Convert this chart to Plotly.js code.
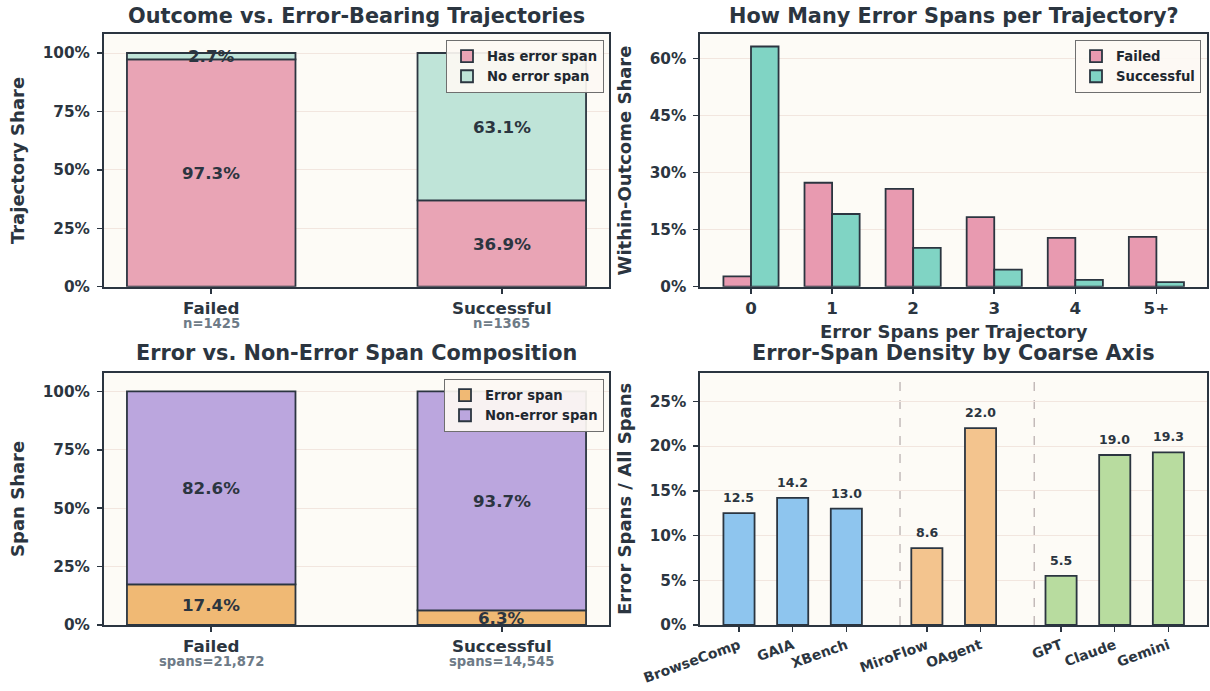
<!DOCTYPE html>
<html>
<head>
<meta charset="utf-8">
<script src="https://cdn.plot.ly/plotly-3.0.1.min.js"></script>
<style>
html,body{margin:0;padding:0;background:#ffffff;}
#chart{width:1210px;height:691px;}
</style>
</head>
<body>
<div id="chart"></div>
<script>
// ---------------- DATA ----------------
const outcomes = ['Failed', 'Successful'];
const trajectoryCounts = [1425, 1365];
const hasErrorShare = [97.3, 36.9];
const noErrorShare = [2.7, 63.1];

const spanBins = ['0', '1', '2', '3', '4', '5+'];
const failedSpanDist = [2.7, 27.3, 25.7, 18.3, 12.8, 13.1];
const successSpanDist = [63.1, 19.1, 10.2, 4.5, 1.8, 1.2];

const spanCounts = [21872, 14545];
const errorSpanShare = [17.4, 6.3];
const nonErrorSpanShare = [82.6, 93.7];

const densityLabels = ['BrowseComp', 'GAIA', 'XBench', 'MiroFlow', 'OAgent', 'GPT', 'Claude', 'Gemini'];
const densityGroups = ['benchmark', 'benchmark', 'benchmark', 'framework', 'framework', 'model', 'model', 'model'];
const densityValues = [12.5, 14.2, 13.0, 8.6, 22.0, 5.5, 19.0, 19.3];

// ---------------- STYLE ----------------
const FONT = 'DejaVu Sans, Verdana, sans-serif';
const DARK = '#2b3540';
const GREY = '#6e7b87';
const PLOT_BG = '#fdfbf6';
const GRID = '#f2e6df';
const PINK = '#e9a4b5';
const MINT = '#bfe4d8';
const PINK2 = '#e89ab0';
const TEAL2 = '#80d4c4';
const ORANGE = '#f0b974';
const PURPLE = '#bba6de';
const groupColors = {benchmark: '#8ec5ee', framework: '#f3c48e', model: '#b8dc9f'};

const W = 1210, H = 691;
const px = v => v / W;
const py = v => 1 - v / H;

const domL = [px(104), px(609)];
const domR = [px(700.4), px(1207)];
const domTop = [py(286.7), py(34.3)];
const domBot = [py(625), py(372.7)];

// bar positions for density panel (gap between groups)
const densityPos = [];
{
  let p = 0;
  densityGroups.forEach((g, i) => {
    if (i > 0) { p += 1; if (g !== densityGroups[i - 1]) p += 0.5; }
    densityPos.push(p);
  });
}
const dividers = [];
densityGroups.forEach((g, i) => { if (i > 0 && g !== densityGroups[i - 1]) dividers.push(densityPos[i] - 0.5); });

const edge = {color: DARK, width: 1.8};

const traces = [
  // Panel 1
  {type: 'bar', x: outcomes, y: hasErrorShare, base: [0, 0], width: 0.58, name: 'Has error span',
   marker: {color: PINK, line: edge}, xaxis: 'x', yaxis: 'y', legend: 'legend', hoverinfo: 'none'},
  {type: 'bar', x: outcomes, y: noErrorShare, base: hasErrorShare, width: 0.58, name: 'No error span',
   marker: {color: MINT, line: edge}, xaxis: 'x', yaxis: 'y', legend: 'legend', hoverinfo: 'none'},
  // Panel 2
  {type: 'bar', x: spanBins, y: failedSpanDist, width: 0.34, offset: -0.34, name: 'Failed',
   marker: {color: PINK2, line: edge}, xaxis: 'x2', yaxis: 'y2', legend: 'legend2', hoverinfo: 'none'},
  {type: 'bar', x: spanBins, y: successSpanDist, width: 0.34, offset: 0, name: 'Successful',
   marker: {color: TEAL2, line: edge}, xaxis: 'x2', yaxis: 'y2', legend: 'legend2', hoverinfo: 'none'},
  // Panel 3
  {type: 'bar', x: outcomes, y: errorSpanShare, base: [0, 0], width: 0.58, name: 'Error span',
   marker: {color: ORANGE, line: edge}, xaxis: 'x3', yaxis: 'y3', legend: 'legend3', hoverinfo: 'none'},
  {type: 'bar', x: outcomes, y: nonErrorSpanShare, base: errorSpanShare, width: 0.58, name: 'Non-error span',
   marker: {color: PURPLE, line: edge}, xaxis: 'x3', yaxis: 'y3', legend: 'legend3', hoverinfo: 'none'},
  // Panel 4
  {type: 'bar', x: densityPos, y: densityValues, width: 0.58, showlegend: false,
   marker: {color: densityGroups.map(g => groupColors[g]), line: edge}, xaxis: 'x4', yaxis: 'y4', hoverinfo: 'none'}
];

const tickFont = {family: FONT, size: 15.3, color: DARK, weight: 'bold'};
const bigTickFont = {family: FONT, size: 16.7, color: DARK, weight: 'bold'};
const axTitleFont = {family: FONT, size: 18, color: DARK, weight: 'bold'};

function yAxis(domain, anchor, range, dtick, title) {
  return {
    domain: domain, anchor: anchor, range: range, dtick: dtick, tick0: 0, ticksuffix: '%',
    showline: true, mirror: true, linecolor: DARK, linewidth: 2,
    ticks: 'outside', ticklen: 5, tickwidth: 1.5, tickcolor: DARK, ticklabelstandoff: 4,
    showgrid: true, gridcolor: GRID, gridwidth: 1, zeroline: false,
    tickfont: tickFont, fixedrange: true,
    title: {text: title, font: axTitleFont, standoff: 13}
  };
}
function xAxis(domain, anchor, extra) {
  return Object.assign({
    domain: domain, anchor: anchor,
    showline: true, mirror: true, linecolor: DARK, linewidth: 2,
    ticks: 'outside', ticklen: 5, tickwidth: 1.5, tickcolor: DARK,
    showgrid: false, zeroline: false, fixedrange: true,
    tickfont: bigTickFont
  }, extra);
}

const annotations = [];
// Panel titles
const titleSpec = [
  ['Outcome vs. Error-Bearing Trajectories', domL, 16],
  ['How Many Error Spans per Trajectory?', domR, 16],
  ['Error vs. Non-Error Span Composition', domL, 353],
  ['Error-Span Density by Coarse Axis', domR, 353]
];
titleSpec.forEach(([t, d, yc]) => annotations.push({
  text: t, xref: 'paper', yref: 'paper', x: (d[0] + d[1]) / 2, y: py(yc),
  xanchor: 'center', yanchor: 'middle', showarrow: false,
  font: {family: FONT, size: 20.8, color: DARK, weight: 'bold'}
}));

const segFont = {family: FONT, size: 16.7, color: DARK, weight: 'bold'};
const subFont = {family: FONT, size: 13.2, color: GREY, weight: 'bold'};
// Panel 1 segment labels
outcomes.forEach((o, i) => {
  annotations.push({text: hasErrorShare[i].toFixed(1) + '%', x: o, y: hasErrorShare[i] / 2, xref: 'x', yref: 'y', showarrow: false, font: segFont});
  annotations.push({text: noErrorShare[i].toFixed(1) + '%', x: o, y: hasErrorShare[i] + noErrorShare[i] / 2, xref: 'x', yref: 'y', showarrow: false, font: segFont});
  annotations.push({text: 'n=' + trajectoryCounts[i], x: o, y: py(323.5), xref: 'x', yref: 'paper', yanchor: 'middle', showarrow: false, font: subFont});
});
// Panel 3 segment labels
outcomes.forEach((o, i) => {
  annotations.push({text: errorSpanShare[i].toFixed(1) + '%', x: o, y: errorSpanShare[i] / 2, xref: 'x3', yref: 'y3', showarrow: false, font: segFont});
  annotations.push({text: nonErrorSpanShare[i].toFixed(1) + '%', x: o, y: errorSpanShare[i] + nonErrorSpanShare[i] / 2, xref: 'x3', yref: 'y3', showarrow: false, font: segFont});
  annotations.push({text: 'spans=' + spanCounts[i].toLocaleString('en-US'), x: o, y: py(661), xref: 'x3', yref: 'paper', yanchor: 'middle', showarrow: false, font: subFont});
});
// Panel 4 value labels
densityPos.forEach((p, i) => annotations.push({
  text: densityValues[i].toFixed(1), x: p, y: densityValues[i], xref: 'x4', yref: 'y4',
  yanchor: 'bottom', yshift: 6, showarrow: false,
  font: {family: FONT, size: 12.5, color: DARK, weight: 'bold'}
}));

const shapes = dividers.map(d => ({
  type: 'line', xref: 'x4', yref: 'y4 domain', x0: d, x1: d, y0: 0, y1: 1,
  line: {color: '#b5abab', width: 1.2, dash: 'dash'}, layer: 'below'
}));

const legendBase = {
  bgcolor: 'rgba(253,249,243,0.92)', bordercolor: '#6f6f6f', borderwidth: 1,
  font: {family: FONT, size: 13.2, color: '#1f2830', weight: 'bold'},
  xanchor: 'right', yanchor: 'top', traceorder: 'normal', itemclick: false, itemdoubleclick: false,
  tracegroupgap: 0
};

const layout = {
  width: W, height: H,
  margin: {l: 0, r: 0, t: 0, b: 0},
  paper_bgcolor: '#ffffff', plot_bgcolor: PLOT_BG,
  barmode: 'overlay',
  font: {family: FONT, color: DARK},
  xaxis: xAxis(domL, 'y', {range: [-0.369, 1.369], type: 'category'}),
  yaxis: yAxis(domTop, 'x', [0, 108], 25, 'Trajectory Share'),
  xaxis2: xAxis(domR, 'y2', {range: [-0.624, 5.624], type: 'category',
    title: {text: 'Error Spans per Trajectory', font: axTitleFont, standoff: 9}}),
  yaxis2: yAxis(domTop, 'x2', [0, 66.3], 15, 'Within-Outcome Share'),
  xaxis3: xAxis(domL, 'y3', {range: [-0.369, 1.369], type: 'category'}),
  yaxis3: yAxis(domBot, 'x3', [0, 108], 25, 'Span Share'),
  xaxis4: xAxis(domR, 'y4', {range: [-0.719, 8.719], tickmode: 'array', tickvals: densityPos, ticktext: densityLabels,
    tickangle: -20, tickfont: {family: FONT, size: 13.9, color: DARK, weight: 'bold'}}),
  yaxis4: yAxis(domBot, 'x4', [0, 28.2], 5, 'Error Spans / All Spans'),
  legend: Object.assign({}, legendBase, {x: px(604), y: py(40)}),
  legend2: Object.assign({}, legendBase, {x: px(1201), y: py(40)}),
  legend3: Object.assign({}, legendBase, {x: px(604), y: py(379)}),
  annotations: annotations,
  shapes: shapes
};

Plotly.newPlot('chart', traces, layout, {displayModeBar: false, staticPlot: true});
</script>
</body>
</html>
